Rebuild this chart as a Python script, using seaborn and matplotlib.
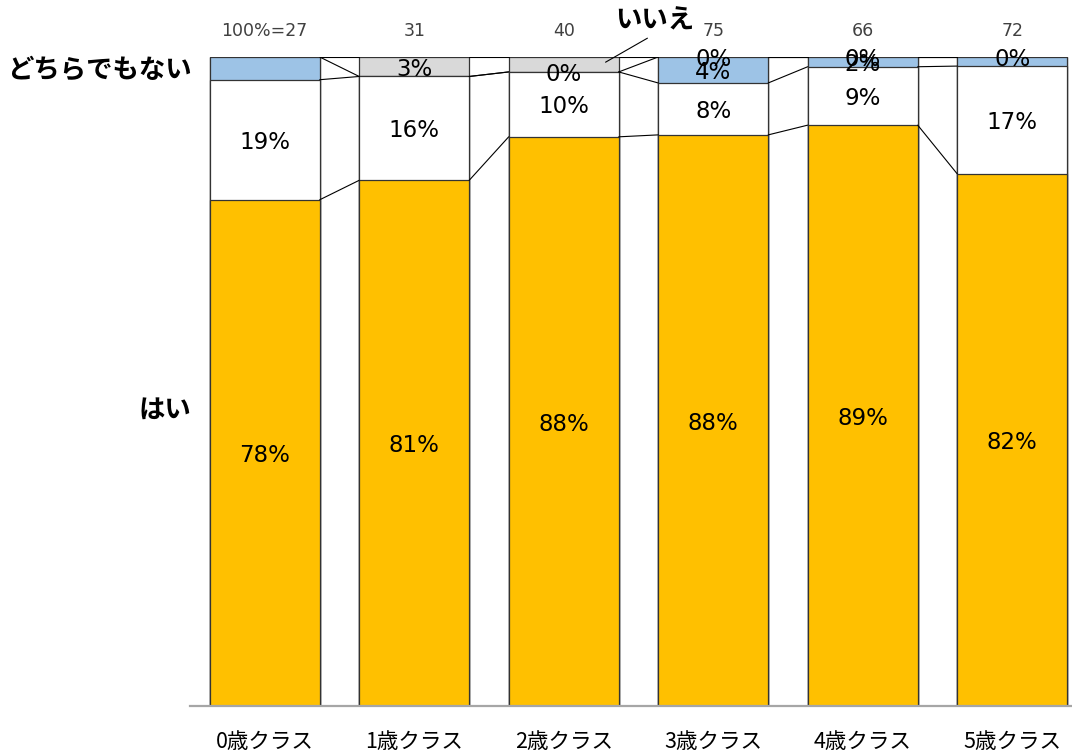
import numpy as np
import matplotlib.pyplot as plt
import seaborn as sns

# Data (percent)
classes = ['0歳クラス', '1歳クラス', '2歳クラス', '3歳クラス', '4歳クラス', '5歳クラス']
totals = ['100%=27', '31', '40', '75', '66', '72']

yes_vals = [78, 81, 87.7, 88, 89.5, 82]          # はい
white_vals = [18.5, 16, 10, 8, 9, 16.6]          # (無ラベル)
neither_vals = [3.5, 0, 0, 4, 1.5, 1.4]          # どちらでもない
no_vals = [0, 3, 2.3, 0, 0, 0]                   # いいえ

yes_labels = ['78%', '81%', '88%', '88%', '89%', '82%']
white_labels = ['19%', '16%', '10%', '8%', '9%', '17%']
neither_labels = [None, None, '0%', '4%', '2%', None]
no_labels = [None, '3%', None, '0%', '0%', '0%']

sns.set_style('white')
plt.rcParams['font.family'] = ['Noto Sans CJK JP', 'DejaVu Sans']
plt.rcParams['text.color'] = 'black'
plt.rcParams['xtick.color'] = 'black'

fig = plt.figure(figsize=(10.72, 7.51), dpi=100)
ax = fig.add_axes([0.1772, 0.0599, 0.8228, 0.8642])

series = [
    (yes_vals, '#FFC000', yes_labels),
    (white_vals, '#FFFFFF', white_labels),
    (neither_vals, '#9DC3E6', neither_labels),
    (no_vals, '#D9D9D9', no_labels),
]

bottoms = []
tops = []
run = np.zeros(len(classes))
for vals, _, _ in series:
    bottoms.append(run.copy())
    run = run + np.array(vals)
    tops.append(run.copy())

bar_w = 0.736
edge = '#333333'
# draw cumulative heights from the top series down so each layer covers the next
for k in range(len(series) - 1, -1, -1):
    sns.barplot(x=classes, y=tops[k], color=series[k][1], saturation=1,
                width=bar_w, edgecolor=edge, linewidth=0.9, ax=ax)

# series lines between bars
for k in range(len(series)):
    for i in range(len(classes) - 1):
        ax.plot([i + bar_w / 2, i + 1 - bar_w / 2], [tops[k][i], tops[k][i + 1]],
                color='black', lw=0.8, zorder=1)

# segment labels
num_font = ['DejaVu Sans']
for k, (vals, _, labels) in enumerate(series):
    for i, lab in enumerate(labels):
        if lab is None:
            continue
        y = bottoms[k][i] + vals[i] / 2 - 0.4
        ax.text(i, y, lab, ha='center', va='center', fontsize=16.5,
                family=num_font, color='black')

# n labels above bars
for i, t in enumerate(totals):
    ax.text(i, 104.0, t, ha='center', va='center', fontsize=12.5,
            family=num_font, color='#404040', clip_on=False)

# category labels
ax.text(-0.49, 98.0, 'どちらでもない', ha='right', va='center', fontsize=19,
        fontweight='bold', clip_on=False)
ax.text(-0.49, 45.6, 'はい', ha='right', va='center', fontsize=19,
        fontweight='bold', clip_on=False)
ax.text(2.61, 105.6, 'いいえ', ha='center', va='center', fontsize=19,
        fontweight='bold', clip_on=False)
ax.plot([2.28, 2.56], [99.2, 102.9], color='black', lw=0.8, clip_on=False)

ax.set_xlim(-0.5, 5.4)
ax.set_ylim(0, 100)
ax.set_yticks([])
ax.set_xlabel('')
ax.set_ylabel('')
ax.tick_params(axis='x', length=0, pad=18, labelsize=15.5)
for s in ['top', 'right', 'left']:
    ax.spines[s].set_visible(False)
ax.spines['bottom'].set_color('#A6A6A6')
ax.spines['bottom'].set_linewidth(1.6)

fig.savefig('out.png', dpi=100)
